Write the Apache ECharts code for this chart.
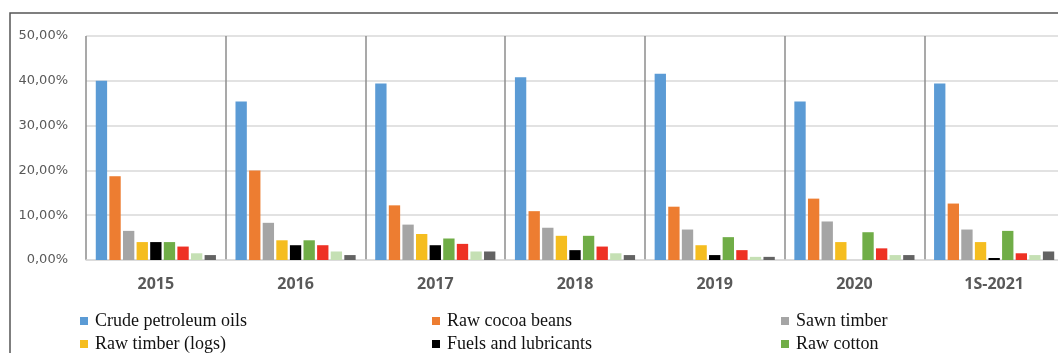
<!DOCTYPE html>
<html>
<head>
<meta charset="utf-8">
<script src="https://cdn.jsdelivr.net/npm/echarts@6/dist/echarts.min.js"></script>
<style>
    html, body { margin: 0; padding: 0; background: #fff; }
    #main { width: 1058px; height: 353px; }
</style>
</head>
<body>
<div id="main"></div>
<script>
// categories (x axis)
var years = ['2015', '2016', '2017', '2018', '2019', '2020', '1S-2021'];

// series names, the last three are cut off in the picture
var names = ['Crude petroleum oils', 'Raw cocoa beans', 'Sawn timber',
    'Raw timber (logs)', 'Fuels and lubricants', 'Raw cotton',
    'Cashew nuts', 'Natural rubber', 'Other products'];

// shares in percent, one array per product
var crudeOil   = [40.0, 35.4, 39.4, 40.8, 41.6, 35.4, 39.4];
var cocoa      = [18.7, 20.0, 12.2, 10.9, 11.9, 13.7, 12.6];
var sawnTimber = [6.5, 8.3, 7.9, 7.2, 6.8, 8.6, 6.8];
var rawTimber  = [4.0, 4.4, 5.8, 5.4, 3.3, 4.0, 4.0];
var fuels      = [4.0, 3.3, 3.3, 2.2, 1.1, 0, 0.45];
var cotton     = [4.0, 4.4, 4.8, 5.4, 5.1, 6.2, 6.5];
var cashew     = [3.0, 3.3, 3.6, 3.0, 2.2, 2.6, 1.5];
var rubber     = [1.5, 1.9, 1.9, 1.5, 0.7, 1.1, 1.1];
var others     = [1.1, 1.1, 1.9, 1.1, 0.7, 1.1, 1.9];

// y axis ticks
var yTicks = [0, 10, 20, 30, 40, 50];

var colors = ['#5b9bd5', '#ed7d31', '#a5a5a5', '#f5bd1f', '#000000',
    '#70ad47', '#ee3124', '#c5e0b4', '#636363'];

var values = [crudeOil, cocoa, sawnTimber, rawTimber, fuels, cotton, cashew, rubber, others];

var series = names.map(function (n, i) {
    return {
        name: n,
        type: 'bar',
        data: values[i],
        barGap: '20%',
        barCategoryGap: '14%',
        itemStyle: { color: colors[i] }
    };
});

// legend grid: 3 columns, rows 23px apart (third row is below the picture)
var legendLefts = [75, 427, 776];
var legendTops = [307, 330, 353];

var legends = names.map(function (n, i) {
    return {
        left: legendLefts[i % 3],
        top: legendTops[Math.floor(i / 3)],
        itemWidth: 8,
        itemHeight: 8,
        icon: 'rect',
        selectedMode: false,
        textStyle: {
            fontFamily: 'Liberation Serif',
            fontSize: 18,
            lineHeight: 18,
            color: '#111',
            padding: [0, 0, 0, 2]
        },
        data: [n]
    };
});

var myChart = echarts.init(document.getElementById('main'));

myChart.setOption({
    animation: false,
    backgroundColor: '#fff',
    color: colors,
    graphic: [{
        type: 'polyline',
        shape: { points: [[10, 400], [10, 13], [1070, 13]] },
        style: { fill: null, stroke: '#555', lineWidth: 1.5 },
        silent: true
    }],
    legend: legends,
    grid: {
        left: 86,
        top: 36,
        width: 978,
        height: 224,
        containLabel: false,
        outerBoundsMode: 'none'
    },
    xAxis: {
        type: 'category',
        data: years,
        axisTick: { show: false },
        axisLine: { lineStyle: { color: '#d9d9d9', width: 1.5 } },
        splitLine: { show: true, lineStyle: { color: '#8c8c8c', width: 1.5 } },
        axisLabel: {
            margin: 16,
            fontFamily: 'Open Sans',
            fontSize: 16,
            fontWeight: 'bold',
            color: '#595959'
        }
    },
    yAxis: {
        type: 'value',
        min: yTicks[0],
        max: yTicks[yTicks.length - 1],
        interval: yTicks[1] - yTicks[0],
        axisLine: { show: false },
        axisTick: { show: false },
        splitLine: { lineStyle: { color: '#d9d9d9', width: 1.5 } },
        axisLabel: {
            margin: 18,
            fontFamily: 'DejaVu Sans',
            fontSize: 13,
            color: '#595959',
            formatter: function (v) {
                return v.toFixed(2).replace('.', ',') + '%';
            }
        }
    },
    series: series
});
</script>
</body>
</html>
